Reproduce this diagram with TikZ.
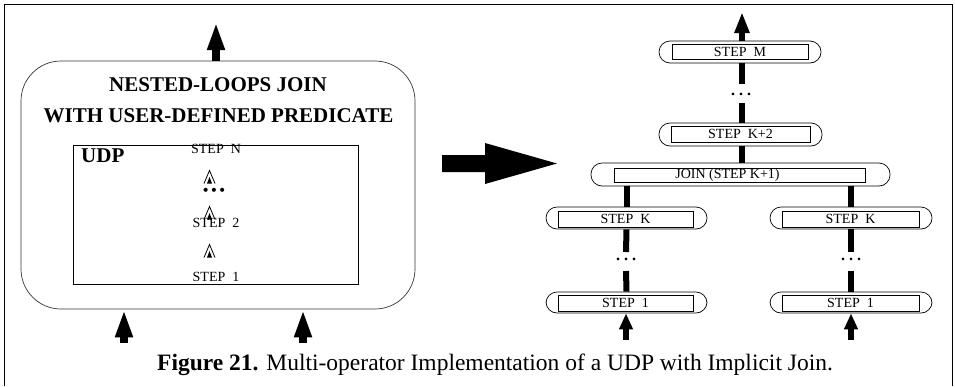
\documentclass[tikz,border=0pt]{standalone}
\usepackage{fontspec}
\setmainfont{Liberation Serif}
\newfontfamily\dejavu{DejaVu Sans}
\usetikzlibrary{arrows.meta}
\begin{document}
\begin{tikzpicture}[x=1pt,y=-1pt,
  pill/.style={draw=black, line width=0.7pt, rounded corners=11pt, inner sep=0pt},
  inbox/.style={draw=black, line width=0.8pt, inner sep=0pt, font=\fontsize{14}{14}\selectfont},
  conn/.style={line width=6pt},
  upbig/.style={line width=8pt, -{Triangle[length=28pt,width=16pt]}},
  upsmall/.style={line width=5.5pt, -{Triangle[length=16pt,width=13pt]}},
  steptext/.style={inner sep=0pt, font=\fontsize{14}{14}\selectfont},
  dotstext/.style={inner sep=0pt, font=\fontsize{16}{16}\selectfont\bfseries}
]
\useasboundingbox (0,0) rectangle (955,386);
% frame
\draw[line width=0.8pt] (4,386) -- (4,4) -- (952,4) -- (952,386);

% ---------- left: nested-loops join ----------
\node[draw=black!80, line width=0.7pt, rounded corners=40pt, minimum width=394pt, minimum height=248pt, inner sep=0pt] (lbox) at (218,185) {};
\node[inner sep=0pt, font=\fontsize{21}{21}\selectfont\bfseries] (t1) at (218,84.5) {NESTED-LOOPS JOIN};
\node[inner sep=0pt, font=\fontsize{21}{21}\selectfont\bfseries] (t2) at (218.5,115.5) {WITH USER-DEFINED PREDICATE};
\node[draw=black, line width=0.8pt, minimum width=285pt, minimum height=139pt, inner sep=0pt] (udpbox) at (215.5,214.5) {};
\node[inner sep=0pt, anchor=west, font=\fontsize{21}{21}\selectfont\bfseries] (udp) at (81,156) {UDP};
\node[steptext] (sn) at (216,149) {STEP\ \ N};
\node[steptext] (s2) at (216,223) {STEP\ \ 2};
\node[steptext] (s1) at (216,276.5) {STEP\ \ 1};
\node[inner sep=0pt, font=\dejavu\fontsize{14}{14}\selectfont] (ldots) at (214,192) {•••};
% small arrow glyphs
\foreach \yy in {177,213,251}{
  \draw[line width=0.8pt] (204,\yy+6.5) -- (209.5,\yy-6.5) -- (215,\yy+6.5);
  \fill (207,\yy+6.5) -- (209.5,\yy) -- (212,\yy+6.5) -- cycle;
}
% arrows of the left box
\coordinate (lout) at (216,22);
\coordinate (lin1) at (124,343);
\coordinate (lin2) at (303,343);
\draw[upbig] (lbox.north -| lout) -- (lout);
\draw[upbig] (lin1) -- (lin1 |- lbox.south);
\draw[upbig] (lin2) -- (lin2 |- lbox.south);

% ---------- big arrow ----------
\fill (442,155) -- (485,155) -- (485,143) -- (557,163.5) -- (485,184) -- (485,172) -- (442,172) -- cycle;

% ---------- right: multi-operator plan ----------
\node[pill, minimum width=162pt, minimum height=22pt] (m) at (740,52) {};
\node[inbox, minimum width=136pt, minimum height=15pt] (mi) at (740,51.5) {STEP\ \ M};
\node[pill, minimum width=163pt, minimum height=23pt] (k2) at (740.5,134.5) {};
\node[inbox, minimum width=139pt, minimum height=16pt] (k2i) at (740.5,134) {STEP\ \ K+2};
\node[pill, minimum width=299pt, minimum height=23pt] (j) at (740.5,174.5) {};
\node[inbox, minimum width=251pt, minimum height=14pt] (ji) at (739.5,175) {\hspace*{-24pt}JOIN (STEP K+1)};
\node[pill, minimum width=161pt, minimum height=22pt] (kl) at (626.5,218) {};
\node[inbox, minimum width=135pt, minimum height=16pt] (kli) at (625.5,219) {STEP\ \ K};
\node[pill, minimum width=162pt, minimum height=22pt] (kr) at (851,218) {};
\node[inbox, minimum width=137pt, minimum height=16pt] (kri) at (850.5,219) {STEP\ \ K};
\node[pill, minimum width=161pt, minimum height=21pt] (ol) at (626.5,302.5) {};
\node[inbox, minimum width=135pt, minimum height=16pt] (oli) at (625.5,303) {STEP\ \ 1};
\node[pill, minimum width=162pt, minimum height=21pt] (or) at (851,302.5) {};
\node[inbox, minimum width=137pt, minimum height=16pt] (ori) at (850.5,303) {STEP\ \ 1};

% dots
\node[dotstext] (dm) at (741,94.5) {.\hspace{4pt}.\hspace{4pt}.};
\node[dotstext] (dl) at (626,259.5) {.\hspace{4pt}.\hspace{4pt}.};
\node[dotstext] (dr) at (851,259.5) {.\hspace{4pt}.\hspace{4pt}.};

% connectors
\coordinate (mA) at (742,84);
\coordinate (mB) at (742,103);
\draw[conn] (m.south -| mA) -- (mA);
\draw[conn] (mB) -- (k2.north -| mB);
\draw[conn] (k2.south -| mB) -- (j.north -| mB);
\draw[conn] (j.south -| kl.north) -- (kl.north);
\draw[conn] (j.south -| kr.north) -- (kr.north);
\coordinate (lA) at (626,252);
\coordinate (lB) at (626,271);
\coordinate (rA) at (851,252);
\coordinate (rB) at (851,271);
\draw[conn] (kl.south) -- (lA);
\draw[conn] (lB) -- (ol.north);
\draw[conn] (kr.south) -- (rA);
\draw[conn] (rB) -- (or.north);
% arrows right
\coordinate (rout) at (742,12);
\draw[line width=6pt, -{Triangle[length=21pt,width=14pt]}] (m.north -| rout) -- (rout);
\coordinate (rin1) at (626,340);
\coordinate (rin2) at (851,340);
\draw[upsmall] (rin1) -- (rin1 |- ol.south);
\draw[upsmall] (rin2) -- (rin2 |- or.south);

% caption
\node[inner sep=0pt, anchor=base west, font=\fontsize{23.5}{23.5}\selectfont] (cap) at (157,370) {\textbf{Figure 21.} Multi-operator Implementation of a UDP with Implicit Join.};
\end{tikzpicture}
\end{document}
